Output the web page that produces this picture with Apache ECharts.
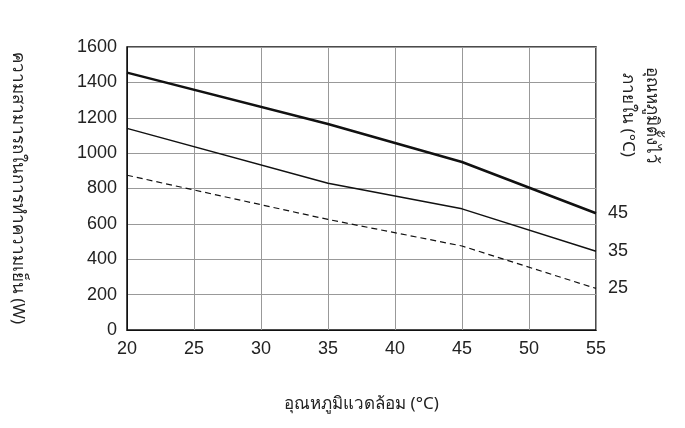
<!DOCTYPE html>
<html><head><meta charset="utf-8">
<script src="https://cdn.jsdelivr.net/npm/echarts@6/dist/echarts.min.js"></script>
<style>html,body{margin:0;background:#fff}#c{width:685px;height:428px}</style>
</head><body><div id="c"></div>
<script>
const xTemps = [20, 35, 45, 55];
const line45 = [1455, 1165, 950, 660];
const line35 = [1140, 830, 685, 445];
const line25 = [875, 625, 475, 235];
const endLabels = ['45', '35', '25'];
const chart = echarts.init(document.getElementById('c'));
const font = '"Liberation Sans", Arial, sans-serif';
const tfont = '"Noto Sans", "DejaVu Sans", sans-serif';
function mk(d){return xTemps.map((x,i)=>[x,d[i]]);}
function endLab(t){return {show:true,formatter:t,fontSize:18,color:'#222',fontFamily:font,distance:12};}
chart.setOption({
  animation:false,
  grid:{left:127,right:89,top:47,bottom:98,show:true,borderColor:'#111',borderWidth:1.5},
  xAxis:{type:'value',min:20,max:55,interval:5,
    name:'อุณหภูมิแวดล้อม (°C)',nameLocation:'middle',nameGap:66,
    nameTextStyle:{fontSize:17,color:'#222',fontFamily:tfont},
    axisLine:{lineStyle:{color:'#111'}},axisTick:{show:false},
    axisLabel:{fontSize:18,color:'#222',fontFamily:font,margin:10},
    splitLine:{lineStyle:{color:'#999',width:1}}},
  yAxis:{type:'value',min:0,max:1600,interval:200,
    axisLine:{lineStyle:{color:'#111'}},axisTick:{show:false},
    axisLabel:{fontSize:18,color:'#222',fontFamily:font,margin:10,formatter:v=>String(v)},
    splitLine:{lineStyle:{color:'#999',width:1}}},
  graphic:[
    {type:'text',x:18,y:188,rotation:-Math.PI/2,style:{text:'ความสามารถในการทำความเย็น (W)',fill:'#222',font:'17px '+tfont,textAlign:'center',textVerticalAlign:'middle'}},
    {type:'text',x:640,y:115,rotation:-Math.PI/2,style:{text:'อุณหภูมิตั้งไว้\nภายใน (°C)',fill:'#222',font:'17px '+tfont,textAlign:'center',textVerticalAlign:'middle',lineHeight:24}}
  ],
  series:[
    {type:'line',data:mk(line45),symbol:'none',lineStyle:{color:'#111',width:2.5},endLabel:endLab(endLabels[0])},
    {type:'line',data:mk(line35),symbol:'none',lineStyle:{color:'#111',width:1.5},endLabel:endLab(endLabels[1])},
    {type:'line',data:mk(line25),symbol:'none',lineStyle:{color:'#111',width:1.2,type:[6,4]},endLabel:endLab(endLabels[2])}
  ]
});
</script></body></html>
